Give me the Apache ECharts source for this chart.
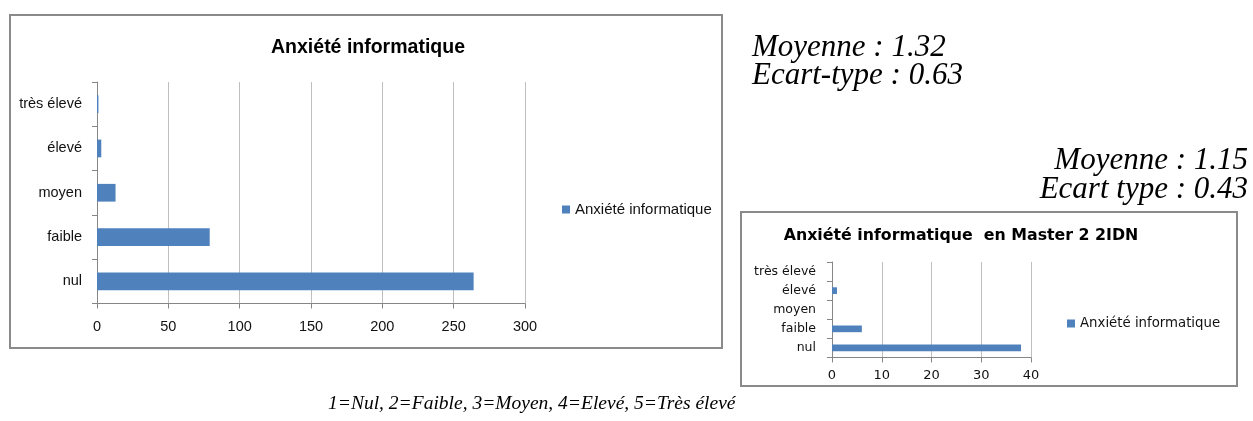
<!DOCTYPE html>
<html>
<head>
<meta charset="utf-8">
<script src="https://cdn.jsdelivr.net/npm/echarts@6/dist/echarts.min.js"></script>
<style>
html,body{margin:0;padding:0;background:#fff;}
#c{width:1253px;height:421px;}
</style>
</head>
<body>
<div id="c"></div>
<script>
// Data
const categories = ['nul', 'faible', 'moyen', 'élevé', 'très élevé'];
const seriesName = 'Anxiété informatique';
const valuesAll = [264, 79, 13, 3, 1];
const valuesM2 = [38, 6, 0, 1, 0];
const title1 = 'Anxiété informatique';
const title2 = 'Anxiété informatique  en Master 2 2IDN';
const stats1 = ['Moyenne : 1.32', 'Ecart-type : 0.63'];
const stats2 = ['Moyenne : 1.15', 'Ecart type : 0.43'];
const footnote = '1=Nul, 2=Faible, 3=Moyen, 4=Elevé, 5=Très élevé';

const NARROW = '"Liberation Sans Narrow", "Liberation Sans", Arial, sans-serif';
const WIDE = '"DejaVu Sans", Verdana, sans-serif';
const SERIF = '"Liberation Serif", "Times New Roman", serif';
const BAR = '#4f81bd';
const AXIS = '#868686';
const GRID = '#bfbfbf';

const chart = echarts.init(document.getElementById('c'), null, {renderer: 'canvas'});

function xAxisCfg(gridIndex, max, interval, font, size, margin) {
  return {
    type: 'value', gridIndex: gridIndex, min: 0, max: max, interval: interval,
    axisLine: {show: true, lineStyle: {color: AXIS, width: 1}},
    axisTick: {show: true, length: 5, lineStyle: {color: AXIS}},
    axisLabel: {color: '#111', fontFamily: font, fontSize: size, margin: margin},
    splitLine: {show: true, lineStyle: {color: GRID, width: 1}}
  };
}
function yAxisCfg(gridIndex, font, size, margin) {
  return {
    type: 'category', gridIndex: gridIndex, data: categories,
    axisLine: {show: true, lineStyle: {color: AXIS, width: 1}},
    axisTick: {show: true, length: 5, lineStyle: {color: AXIS}},
    axisLabel: {color: '#111', fontFamily: font, fontSize: size, margin: margin},
    splitLine: {show: false}
  };
}

const statFont = 'italic 31px ' + SERIF;

chart.setOption({
  animation: false,
  backgroundColor: '#fff',
  title: [
    {text: title1, left: 363, top: 33, textAlign: 'center',
     textStyle: {fontFamily: NARROW, fontWeight: 'bold', fontSize: 19.5, color: '#000'}},
    {text: title2, left: 956, top: 223, textAlign: 'center',
     textStyle: {fontFamily: WIDE, fontWeight: 'bold', fontSize: 15.8, color: '#000'}}
  ],
  legend: [
    {data: [seriesName], left: 557, top: 197, itemWidth: 8, itemHeight: 8, itemGap: 10,
     icon: 'rect', textStyle: {fontFamily: NARROW, fontSize: 15, color: '#111'}},
    {data: [seriesName], left: 1062, top: 312, itemWidth: 8, itemHeight: 8,
     icon: 'rect', textStyle: {fontFamily: WIDE, fontSize: 13.3, color: '#111'}}
  ],
  grid: [
    {left: 97, top: 82, width: 428, height: 221.5, containLabel: false},
    {left: 832, top: 262, width: 199, height: 95.5, containLabel: false}
  ],
  xAxis: [xAxisCfg(0, 300, 50, NARROW, 14.5, 16), xAxisCfg(1, 40, 10, WIDE, 13, 12)],
  yAxis: [yAxisCfg(0, NARROW, 14.5, 15), yAxisCfg(1, WIDE, 12.5, 16)],
  series: [
    {name: seriesName, type: 'bar', xAxisIndex: 0, yAxisIndex: 0, data: valuesAll,
     barWidth: '40%', itemStyle: {color: BAR}},
    {name: seriesName, type: 'bar', xAxisIndex: 1, yAxisIndex: 1, data: valuesM2,
     barWidth: '35%', itemStyle: {color: BAR}}
  ],
  graphic: [
    {type: 'rect', shape: {x: 10, y: 15, width: 712, height: 333},
     style: {fill: null, stroke: '#8a8a8a', lineWidth: 2}, silent: true, z: -1},
    {type: 'rect', shape: {x: 741, y: 212, width: 496, height: 174},
     style: {fill: null, stroke: '#8a8a8a', lineWidth: 2}, silent: true, z: -1},
    {type: 'text', left: 752, top: 32,
     style: {text: stats1[0], font: statFont, fill: '#000'}},
    {type: 'text', left: 752, top: 60,
     style: {text: stats1[1], font: statFont, fill: '#000'}},
    {type: 'text', right: 5, top: 145,
     style: {text: stats2[0], font: statFont, fill: '#000'}},
    {type: 'text', right: 5, top: 174,
     style: {text: stats2[1], font: statFont, fill: '#000'}},
    {type: 'text', left: 328, top: 394,
     style: {text: footnote, font: 'italic 19.5px ' + SERIF, fill: '#000'}}
  ]
});
</script>
</body>
</html>
